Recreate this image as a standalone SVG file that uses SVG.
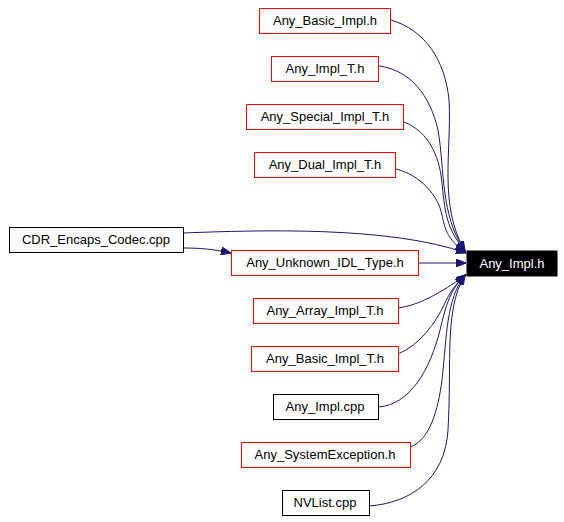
<svg xmlns="http://www.w3.org/2000/svg" width="564" height="522" viewBox="0 0 564 522">
<style>
rect{stroke-width:1}
.r{fill:#fff;stroke:#ff0000}
.b{fill:#fff;stroke:#000}
.k{fill:#000;stroke:#000}
text{font-family:"Liberation Sans",Arial,sans-serif;font-size:13px;text-anchor:middle;fill:#000}
.w{fill:#fff}
.e path{fill:none;stroke:#191970;stroke-width:1;marker-end:url(#a)}
</style>
<defs>
<marker id="a" markerUnits="userSpaceOnUse" markerWidth="11" markerHeight="8" refX="10" refY="4" orient="auto">
<path d="M0,0 L10,4 L0,8 z" fill="#191970" stroke="#191970"/>
</marker>
</defs>
<rect width="564" height="522" fill="#fff"/>
<g class="e" id="edges">
<path d="M391,20 C425,30 445,60 449,100 C452,150 438,205 465,251"/>
<path d="M379,66 C410,70 430,95 438,130 C445,170 440,215 465,251"/>
<path d="M404,122 C425,130 437,150 441,175 C445,205 443,225 465,251"/>
<path d="M396,169 C420,175 438,195 442,215 C445,230 448,240 465,252"/>
<path d="M183,233 C260,230 390,226 466,253"/>
<path d="M183,248 C200,248 212,249 231,253"/>
<path d="M418,263 L466,263"/>
<path d="M398,308 C420,305 440,293 466,275"/>
<path d="M398,354 C420,345 436,322 444,305 C450,292 455,285 465,275"/>
<path d="M378,407 C410,405 430,370 440,330 C446,305 450,290 465,275"/>
<path d="M410,447 C430,440 438,410 442,380 C447,335 446,300 465,275"/>
<path d="M369,506 C410,503 445,480 448,430 C452,360 444,310 465,275"/>
</g>
<g id="n_basic_impl_h"><rect class="r" x="259.5" y="8.5" width="131" height="25"/><text x="325" y="25">Any_Basic_Impl.h</text></g>
<g id="n_impl_t_h"><rect class="r" x="271.5" y="56.5" width="107" height="25"/><text x="325" y="73">Any_Impl_T.h</text></g>
<g id="n_special"><rect class="r" x="246.5" y="104.5" width="157" height="25"/><text x="325" y="121">Any_Special_Impl_T.h</text></g>
<g id="n_dual"><rect class="r" x="254.5" y="152.5" width="141" height="25"/><text x="325" y="169">Any_Dual_Impl_T.h</text></g>
<g id="n_cdr"><rect class="b" x="9.5" y="227.5" width="174" height="25"/><text x="96" y="244">CDR_Encaps_Codec.cpp</text></g>
<g id="n_unknown"><rect class="r" x="231.5" y="250.5" width="187" height="25"/><text x="325" y="267">Any_Unknown_IDL_Type.h</text></g>
<g id="n_any_impl_h"><rect class="k" x="467" y="251" width="90" height="25"/><text class="w" x="512" y="267.5">Any_Impl.h</text></g>
<g id="n_array"><rect class="r" x="253.5" y="298.5" width="145" height="25"/><text x="325" y="315">Any_Array_Impl_T.h</text></g>
<g id="n_basic_impl_t"><rect class="r" x="251.5" y="346.5" width="147" height="25"/><text x="325" y="363">Any_Basic_Impl_T.h</text></g>
<g id="n_impl_cpp"><rect class="b" x="273.5" y="394.5" width="105" height="25"/><text x="325" y="411">Any_Impl.cpp</text></g>
<g id="n_sysexc"><rect class="r" x="241.5" y="442.5" width="169" height="25"/><text x="325" y="459">Any_SystemException.h</text></g>
<g id="n_nvlist"><rect class="b" x="282.5" y="490.5" width="87" height="25"/><text x="325" y="507">NVList.cpp</text></g>
</svg>
